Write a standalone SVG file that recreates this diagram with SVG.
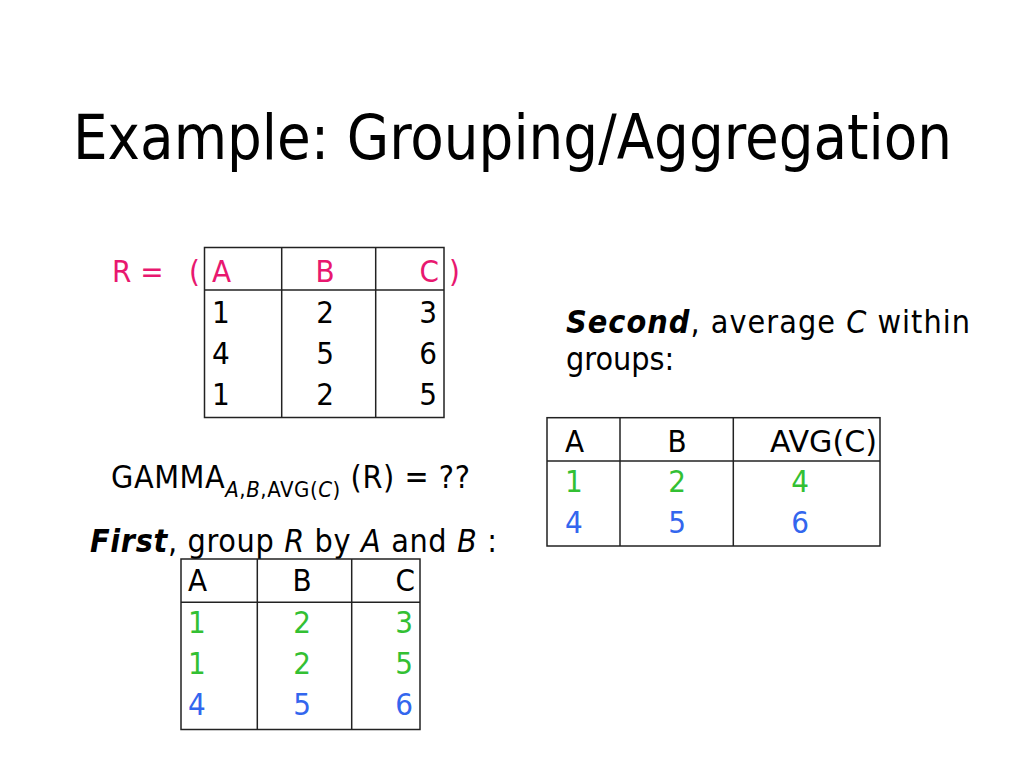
<svg xmlns="http://www.w3.org/2000/svg" width="1024" height="768" viewBox="0 0 1024 768">
<style>
text{font-family:"DejaVu Sans Condensed","DejaVu Sans",sans-serif;fill:#000}
.t{font-size:31px}
.g{font-size:32px}
.pk{fill:#E8186F}
.gr{fill:#33C033}
.bl{fill:#3366EE}
.m{text-anchor:middle}
.e{text-anchor:end}
.i{font-style:italic}
.bi{font-style:italic;font-weight:bold}
.ln{stroke:#222;stroke-width:1.5;fill:none}
</style>
<rect width="1024" height="768" fill="#fff"/>
<g id="title"><text x="73" y="159" font-size="63" textLength="879" lengthAdjust="spacingAndGlyphs">Example: Grouping/Aggregation</text></g>

<g id="tableR">
<text class="t pk" x="112" y="282">R =</text>
<text class="t pk" x="189" y="282">(</text>
<text class="t pk" x="449" y="282">)</text>
<rect class="ln" x="204.5" y="247.5" width="239.5" height="170"/>
<line class="ln" x1="204.5" y1="290" x2="444" y2="290"/>
<line class="ln" x1="281.7" y1="247.5" x2="281.7" y2="417.5"/>
<line class="ln" x1="375.7" y1="247.5" x2="375.7" y2="417.5"/>
<text class="t pk" x="212" y="282">A</text>
<text class="t pk m" x="325" y="282">B</text>
<text class="t pk e" x="439" y="282">C</text>
<text class="t" x="212" y="323">1</text><text class="t m" x="325" y="323">2</text><text class="t e" x="437" y="323">3</text>
<text class="t" x="212" y="364">4</text><text class="t m" x="325" y="364">5</text><text class="t e" x="437" y="364">6</text>
<text class="t" x="212" y="405">1</text><text class="t m" x="325" y="405">2</text><text class="t e" x="437" y="405">5</text>
</g>

<g id="gamma">
<text class="g" x="111" y="488" textLength="359" lengthAdjust="spacing">GAMMA<tspan font-size="22" dy="9"><tspan class="i">A</tspan>,<tspan class="i">B</tspan>,AVG(<tspan class="i">C</tspan>)</tspan><tspan dy="-9"> (R) = ??</tspan></text>
</g>

<g id="first">
<text class="g" x="90" y="552" textLength="407" lengthAdjust="spacing"><tspan class="bi">First</tspan>, group <tspan class="i">R</tspan> by <tspan class="i">A</tspan> and <tspan class="i">B</tspan> :</text>
</g>

<g id="tableGrouped">
<rect class="ln" x="181" y="559" width="239" height="170.5"/>
<line class="ln" x1="181" y1="602.3" x2="420" y2="602.3"/>
<line class="ln" x1="257.3" y1="559" x2="257.3" y2="729.5"/>
<line class="ln" x1="351.7" y1="559" x2="351.7" y2="729.5"/>
<text class="t" x="188" y="591">A</text><text class="t m" x="302" y="591">B</text><text class="t e" x="415" y="591">C</text>
<text class="t gr" x="188" y="633">1</text><text class="t gr m" x="302" y="633">2</text><text class="t gr e" x="413" y="633">3</text>
<text class="t gr" x="188" y="674">1</text><text class="t gr m" x="302" y="674">2</text><text class="t gr e" x="413" y="674">5</text>
<text class="t bl" x="188" y="715">4</text><text class="t bl m" x="302" y="715">5</text><text class="t bl e" x="413" y="715">6</text>
</g>

<g id="second">
<text class="g" x="566" y="333" textLength="404" lengthAdjust="spacing"><tspan class="bi">Second</tspan>, average <tspan class="i">C</tspan>  within</text>
<text class="g" x="566" y="370">groups:</text>
</g>

<g id="tableAvg">
<rect class="ln" x="547" y="417.7" width="333" height="128.3"/>
<line class="ln" x1="547" y1="461" x2="880" y2="461"/>
<line class="ln" x1="620" y1="417.7" x2="620" y2="546"/>
<line class="ln" x1="733.3" y1="417.7" x2="733.3" y2="546"/>
<text class="t" x="565" y="452">A</text><text class="t m" x="677" y="452">B</text><text class="t e" x="877" y="452" textLength="107" lengthAdjust="spacingAndGlyphs">AVG(C)</text>
<text class="t gr" x="565" y="492">1</text><text class="t gr m" x="677" y="492">2</text><text class="t gr m" x="800" y="492">4</text>
<text class="t bl" x="565" y="533">4</text><text class="t bl m" x="677" y="533">5</text><text class="t bl m" x="800" y="533">6</text>
</g>
</svg>
